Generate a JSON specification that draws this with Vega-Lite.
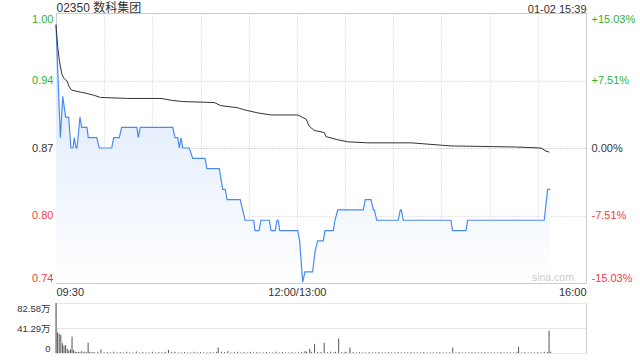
{
  "$schema": "https://vega.github.io/schema/vega-lite/v6.json",
  "padding": {"left": 16, "top": 0, "right": 0, "bottom": 0},
  "background": "white",
  "config": {
    "font": "Liberation Sans, Noto Sans CJK SC, sans-serif",
    "axis": {"labelFont": "Liberation Sans, Noto Sans CJK SC, sans-serif", "labelFontSize": 11, "labelColor": "#333333", "title": null, "ticks": false, "domain": false},
    "view": {"stroke": "#cccccc"}
  },
  "datasets": {
    "price": [{"t":0,"p":0.99},{"t":2.7,"p":0.88},{"t":4.2,"p":0.92},{"t":6,"p":0.9},{"t":7.9,"p":0.9},{"t":9.3,"p":0.87},{"t":10.6,"p":0.87},{"t":11.4,"p":0.88},{"t":12.5,"p":0.87},{"t":13.1,"p":0.87},{"t":14.9,"p":0.9},{"t":16,"p":0.89},{"t":19.3,"p":0.89},{"t":20.1,"p":0.88},{"t":25.3,"p":0.88},{"t":27,"p":0.87},{"t":34.7,"p":0.87},{"t":35.9,"p":0.88},{"t":39.4,"p":0.88},{"t":40.9,"p":0.89},{"t":50.4,"p":0.89},{"t":51.2,"p":0.88},{"t":52.5,"p":0.89},{"t":72.7,"p":0.89},{"t":74.1,"p":0.88},{"t":75.8,"p":0.88},{"t":76.8,"p":0.87},{"t":77.8,"p":0.88},{"t":78.9,"p":0.87},{"t":83,"p":0.87},{"t":85.1,"p":0.86},{"t":92.8,"p":0.86},{"t":94,"p":0.85},{"t":101.7,"p":0.85},{"t":103.8,"p":0.83},{"t":105.4,"p":0.83},{"t":106.5,"p":0.82},{"t":114.7,"p":0.82},{"t":116.2,"p":0.81},{"t":117.7,"p":0.8},{"t":123.1,"p":0.8},{"t":123.9,"p":0.79},{"t":126.4,"p":0.79},{"t":127.6,"p":0.8},{"t":132.8,"p":0.8},{"t":133.9,"p":0.79},{"t":136.5,"p":0.79},{"t":137.6,"p":0.8},{"t":138.4,"p":0.8},{"t":139.3,"p":0.79},{"t":150.5,"p":0.79},{"t":151.7,"p":0.78},{"t":153.6,"p":0.74},{"t":155,"p":0.75},{"t":159.8,"p":0.75},{"t":161.3,"p":0.77},{"t":162.9,"p":0.78},{"t":166.4,"p":0.78},{"t":167.5,"p":0.79},{"t":172.7,"p":0.79},{"t":173.7,"p":0.8},{"t":175.4,"p":0.81},{"t":191.3,"p":0.81},{"t":192.6,"p":0.82},{"t":196.1,"p":0.82},{"t":197.6,"p":0.81},{"t":198.2,"p":0.81},{"t":199.7,"p":0.8},{"t":213.1,"p":0.8},{"t":214.4,"p":0.81},{"t":215,"p":0.81},{"t":216.2,"p":0.8},{"t":245.9,"p":0.8},{"t":246.9,"p":0.79},{"t":255.3,"p":0.79},{"t":256.3,"p":0.8},{"t":304,"p":0.8},{"t":306.1,"p":0.83},{"t":307.8,"p":0.83}],
    "avg": [{"t":0,"a":0.989},{"t":1.06,"a":0.968},{"t":2.05,"a":0.955},{"t":3.7,"a":0.941},{"t":5.2,"a":0.937},{"t":6.8,"a":0.935},{"t":8.3,"a":0.929},{"t":9.8,"a":0.926},{"t":15.6,"a":0.924},{"t":18.7,"a":0.923},{"t":23.8,"a":0.921},{"t":27.6,"a":0.919},{"t":44.6,"a":0.918},{"t":65.4,"a":0.918},{"t":72.7,"a":0.916},{"t":78.9,"a":0.915},{"t":98.6,"a":0.914},{"t":102.7,"a":0.911},{"t":113.1,"a":0.909},{"t":117.2,"a":0.907},{"t":125.6,"a":0.904},{"t":133.9,"a":0.902},{"t":150.5,"a":0.902},{"t":155.7,"a":0.898},{"t":157.7,"a":0.891},{"t":160.8,"a":0.887},{"t":167,"a":0.885},{"t":168.1,"a":0.881},{"t":175.4,"a":0.878},{"t":181.6,"a":0.876},{"t":194.1,"a":0.875},{"t":221,"a":0.875},{"t":245.9,"a":0.872},{"t":285.4,"a":0.871},{"t":302,"a":0.87},{"t":305.1,"a":0.867},{"t":307.1,"a":0.866}],
    "vol": [{"t":0,"v":82.58},{"t":1,"v":34},{"t":2,"v":32},{"t":3,"v":30},{"t":4,"v":16},{"t":5,"v":12},{"t":6,"v":13},{"t":7,"v":7},{"t":8,"v":4},{"t":9,"v":6},{"t":10,"v":27},{"t":11,"v":5},{"t":12,"v":2},{"t":13,"v":1.5},{"t":14,"v":2},{"t":15,"v":1},{"t":16,"v":3},{"t":17,"v":1},{"t":18,"v":2},{"t":19,"v":1},{"t":20,"v":17},{"t":21,"v":2},{"t":22,"v":1},{"t":23,"v":1.5},{"t":24,"v":1},{"t":26,"v":2},{"t":28,"v":6},{"t":30,"v":1},{"t":32,"v":1.5},{"t":34,"v":1},{"t":36,"v":2},{"t":38,"v":1},{"t":40,"v":1.5},{"t":42,"v":1},{"t":44,"v":2},{"t":46,"v":1},{"t":48,"v":1},{"t":50,"v":2.5},{"t":52,"v":1},{"t":54,"v":1.5},{"t":56,"v":1},{"t":58,"v":1},{"t":60,"v":2},{"t":62,"v":1},{"t":64,"v":1.5},{"t":66,"v":1},{"t":68,"v":2},{"t":70,"v":5},{"t":72,"v":1.5},{"t":74,"v":2},{"t":76,"v":1},{"t":78,"v":1},{"t":80,"v":1.5},{"t":82,"v":1},{"t":84,"v":1},{"t":86,"v":2},{"t":88,"v":1},{"t":90,"v":1.5},{"t":92,"v":1},{"t":94,"v":1},{"t":96,"v":1.5},{"t":98,"v":1},{"t":100,"v":2},{"t":101,"v":9},{"t":103,"v":2},{"t":105,"v":1.5},{"t":107,"v":3},{"t":109,"v":1},{"t":111,"v":1.5},{"t":113,"v":2},{"t":115,"v":1},{"t":117,"v":1.5},{"t":119,"v":1},{"t":121,"v":2},{"t":123,"v":1},{"t":125,"v":1.5},{"t":127,"v":1},{"t":129,"v":1},{"t":131,"v":1.5},{"t":133,"v":1},{"t":135,"v":1},{"t":137,"v":2},{"t":139,"v":1},{"t":141,"v":1.5},{"t":143,"v":1},{"t":145,"v":1},{"t":147,"v":1.5},{"t":149,"v":1},{"t":151,"v":1},{"t":153,"v":2},{"t":155,"v":3},{"t":156,"v":2},{"t":158,"v":7},{"t":159,"v":2},{"t":161,"v":15},{"t":163,"v":2},{"t":165,"v":1.5},{"t":167,"v":17},{"t":169,"v":1.5},{"t":171,"v":2},{"t":173,"v":1},{"t":174,"v":2},{"t":176,"v":24},{"t":178,"v":1.5},{"t":180,"v":2},{"t":181,"v":1},{"t":183,"v":9},{"t":185,"v":1.5},{"t":187,"v":1},{"t":189,"v":1.5},{"t":191,"v":1},{"t":193,"v":1},{"t":195,"v":1.5},{"t":197,"v":1},{"t":199,"v":1},{"t":201,"v":1.5},{"t":203,"v":1},{"t":205,"v":1},{"t":207,"v":1.5},{"t":209,"v":1},{"t":211,"v":1},{"t":213,"v":1.5},{"t":215,"v":1},{"t":217,"v":1},{"t":219,"v":1},{"t":221,"v":1.5},{"t":223,"v":1},{"t":225,"v":1},{"t":227,"v":1},{"t":229,"v":1.5},{"t":231,"v":1},{"t":233,"v":1},{"t":235,"v":1},{"t":237,"v":1},{"t":239,"v":1.5},{"t":241,"v":1},{"t":243,"v":1},{"t":245,"v":1},{"t":247,"v":9},{"t":249,"v":1},{"t":251,"v":1.5},{"t":253,"v":1},{"t":255,"v":1},{"t":257,"v":1},{"t":259,"v":1.5},{"t":261,"v":1},{"t":263,"v":1},{"t":265,"v":1},{"t":267,"v":1.5},{"t":269,"v":1},{"t":271,"v":1},{"t":273,"v":1},{"t":275,"v":1},{"t":277,"v":1.5},{"t":279,"v":1},{"t":281,"v":1},{"t":283,"v":1},{"t":285,"v":1},{"t":287,"v":1.5},{"t":288,"v":10},{"t":290,"v":1},{"t":292,"v":1.5},{"t":294,"v":1},{"t":296,"v":1},{"t":298,"v":1},{"t":300,"v":1.5},{"t":302,"v":1},{"t":304,"v":2},{"t":306,"v":1.5},{"t":307,"v":37},{"t":308,"v":2}]
  },
  "spacing": 20,
  "bounds": "flush",
  "vconcat": [
    {
      "width": 530,
      "height": 270,
      "layer": [
        {
          "data": {"name": "price"},
          "mark": {"type": "area", "color": {"gradient": "linear", "x1": 0, "y1": 0, "x2": 0, "y2": 1, "stops": [{"offset": 0, "color": "#d6e4fb"}, {"offset": 1, "color": "#ffffff"}]}},
          "encoding": {
            "x": {"field": "t", "type": "quantitative", "scale": {"domain": [0, 330], "nice": false},
              "axis": {"orient": "bottom", "values": [0, 30, 60, 90, 120, 150, 180, 210, 240, 270, 300, 330], "labelExpr": "datum.value == 0 ? '09:30' : datum.value == 150 ? '12:00/13:00' : datum.value == 330 ? '16:00' : ''", "labelFlush": true, "labelOverlap": false, "labelPadding": 3, "grid": true, "gridColor": "#cccccc", "gridDash": [1, 2]}},
            "y": {"field": "p", "type": "quantitative", "scale": {"domain": [0.73924, 1.00076], "nice": false, "zero": false},
              "axis": {"orient": "left", "values": [0.73924, 0.80462, 0.87, 0.93538, 1.00076], "labelExpr": "format(datum.value, '.2f')", "labelFlush": true, "labelOverlap": false, "labelPadding": 3, "grid": true,
                "gridColor": {"condition": {"test": "abs(datum.value - 0.87) < 0.001", "value": "#aaaaaa"}, "value": "#cccccc"},
                "gridDash": [1, 2],
                "labelColor": {"condition": [{"test": "datum.value > 0.9", "value": "#2db52d"}, {"test": "datum.value < 0.85", "value": "#f23c3c"}], "value": "#333333"}}},
            "y2": {"datum": 0.73924}
          }
        },
        {
          "data": {"name": "price"},
          "mark": {"type": "line", "color": "#4b8bf0", "strokeWidth": 1.2},
          "encoding": {
            "x": {"field": "t", "type": "quantitative",
              "axis": {"orient": "top", "values": [0, 330], "labelExpr": "datum.value == 0 ? '02350 数科集团' : '01-02 15:39'", "labelFlush": true, "labelOverlap": false, "labelPadding": -1, "grid": false,
                "labelFontSize": {"condition": {"test": "datum.value == 0", "value": 12}, "value": 11}}},
            "y": {"field": "p", "type": "quantitative",
              "axis": {"orient": "right", "values": [0.73924, 0.80462, 0.87, 0.93538, 1.00076], "labelExpr": "abs(datum.value - 0.87) < 0.0001 ? '0.00%' : (datum.value > 0.87 ? '+' : '-') + format(abs(datum.value / 0.87 - 1) * 100, '.2f') + '%'", "labelFlush": true, "labelOverlap": false, "labelPadding": 5, "grid": false,
                "labelColor": {"condition": [{"test": "datum.value > 0.9", "value": "#2db52d"}, {"test": "datum.value < 0.85", "value": "#f23c3c"}], "value": "#333333"}}}
          }
        },
        {
          "data": {"name": "avg"},
          "mark": {"type": "line", "color": "#333333", "strokeWidth": 1},
          "encoding": {
            "x": {"field": "t", "type": "quantitative", "axis": null},
            "y": {"field": "a", "type": "quantitative", "axis": null}
          }
        },
        {
          "data": {"values": [{"label": "sina.com"}]},
          "mark": {"type": "text", "align": "right", "baseline": "middle", "color": "#cccccc", "fontSize": 10.5},
          "encoding": {
            "x": {"datum": 322.5, "type": "quantitative", "axis": null},
            "y": {"datum": 0.7441, "type": "quantitative", "axis": null},
            "text": {"field": "label"}
          }
        }
      ],
      "resolve": {"axis": {"x": "independent", "y": "independent"}}
    },
    {
      "width": 530,
      "height": 50,
      "view": {"stroke": null},
      "data": {"name": "vol"},
      "mark": {"type": "rule", "color": "#555555", "strokeWidth": 1},
      "encoding": {
        "x": {"field": "t", "type": "quantitative", "scale": {"domain": [0, 330], "nice": false},
          "axis": {"orient": "bottom", "values": [0, 330], "labels": false, "grid": true, "gridColor": "#cccccc"}},
        "y": {"field": "v", "type": "quantitative", "scale": {"domain": [0, 82.58], "nice": false},
          "axis": {"values": [0, 41.29, 82.58], "labelExpr": "datum.value == 0 ? '0' : format(datum.value, '.2f') + '万'", "labelFlush": true, "labelOverlap": false, "labelPadding": 6, "labelFontSize": 9.5, "grid": true, "gridColor": "#cccccc", "gridDash": [1, 1]}},
        "y2": {"datum": 0}
      }
    }
  ]
}
